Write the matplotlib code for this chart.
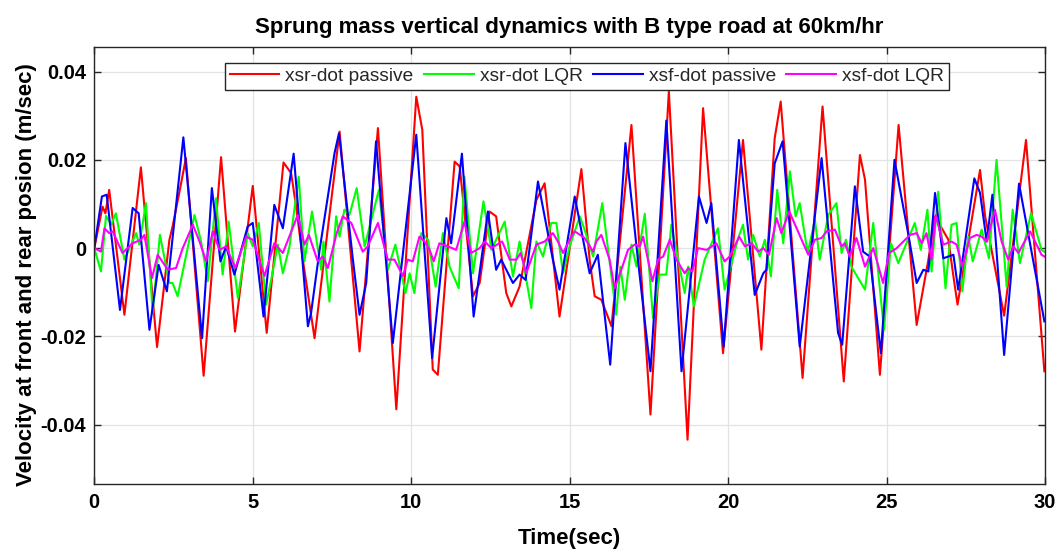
import numpy as np
import matplotlib
matplotlib.use("Agg")
import matplotlib.pyplot as plt

# values, velocity in 1e-3 m/sec
t_red = [0, 0.26, 0.35, 0.47, 0.95, 1.47, 1.98, 2.37, 2.47, 2.68,
         2.89, 3.45, 4.0, 4.44, 5.0, 5.44, 5.97, 6.21, 6.37, 6.58,
         6.95, 7.74, 8.37, 8.95, 9.53, 10.16, 10.35, 10.68, 10.84, 11.37,
         11.53, 11.95, 12.16, 12.47, 12.68, 13.0, 13.16, 13.42, 13.95, 14.21,
         14.68, 15.37, 15.63, 15.79, 16.0, 16.32, 16.95, 17.55, 18.13, 18.72,
         19.21, 19.84, 20.47, 21.05, 21.47, 21.66, 22.35, 22.98, 23.65, 24.16,
         24.32, 24.79, 25.38, 25.95, 26.32, 26.53, 26.95, 27.11, 27.24, 27.95,
         28.11, 28.71, 29.4, 29.98]
v_red = [0, 9.4, 7.9, 13.2, -15.1, 18.3, -22.4, 1.9, 4.9, 12.5,
         20.4, -28.9, 20.6, -18.9, 14.1, -19.2, 19.4, 17.0, 9.4, -2.6,
         -20.4, 26.4, -23.4, 27.2, -36.5, 34.3, 26.8, -27.5, -28.7, 19.6,
         18.5, -10.9, -7.9, 8.3, 7.2, -10.2, -13.2, -8.7, 10.9, 14.7,
         -15.5, 17.9, -2.6, -10.9, -11.7, -17.7, 27.9, -37.7, 35.5, -43.4,
         31.7, -23.8, 24.5, -23.0, 24.9, 33.2, -29.4, 32.1, -30.2, 21.1,
         15.5, -28.7, 27.9, -17.4, -2.6, 7.2, 1.9, -6.4, -12.8, 17.7,
         7.2, -15.3, 24.5, -27.9]

t_green = [0, 0.21, 0.37, 0.53, 0.68, 0.95, 1.32, 1.42, 1.63, 1.84,
           2.07, 2.37, 2.47, 2.63, 3.16, 3.37, 3.58, 3.84, 4.05, 4.24,
           4.53, 4.84, 5.0, 5.19, 5.42, 5.58, 5.79, 5.95, 6.16, 6.45,
           6.63, 6.87, 7.16, 7.23, 7.42, 7.63, 7.74, 7.89, 8.05, 8.28,
           8.53, 8.98, 9.26, 9.5, 9.82, 9.95, 10.1, 10.32, 10.53, 10.77,
           11.0, 11.21, 11.5, 11.68, 11.95, 12.28, 12.53, 12.95, 13.21, 13.42,
           13.79, 13.95, 14.16, 14.42, 14.58, 14.79, 15.0, 15.32, 15.47, 15.74,
           16.03, 16.47, 16.6, 16.74, 16.95, 17.11, 17.37, 17.63, 17.84, 18.05,
           18.21, 18.63, 18.74, 18.92, 19.26, 19.68, 19.89, 20.32, 20.47, 20.63,
           20.79, 21.0, 21.16, 21.35, 21.55, 21.74, 21.95, 22.13, 22.26, 22.51,
           22.74, 22.89, 23.16, 23.42, 23.58, 23.72, 23.89, 24.32, 24.58, 24.92,
           25.14, 25.37, 25.89, 26.08, 26.29, 26.42, 26.63, 26.86, 27.05, 27.21,
           27.39, 27.58, 27.72, 28.0, 28.23, 28.47, 28.79, 28.98, 29.21, 29.56,
           29.89, 29.98]
v_green = [0, -5.3, 7.3, 5.3, 7.9, -2.6, 3.4, 0.8, 10.2, -14.7,
           3.0, -7.9, -7.9, -10.9, 7.5, 1.5, -7.5, 11.3, -6.0, 6.0,
           -11.3, 3.4, 0.4, 5.7, -12.8, -7.2, 0.8, -5.7, 0.4, 16.2,
           -3.0, 8.3, -4.9, 1.5, -12.1, 7.2, 2.6, 8.7, 7.5, 13.6,
           0.4, 13.2, -4.9, 0.8, -10.2, -5.7, -10.2, 3.4, 1.9, -8.7,
           3.4, -4.2, -9.1, 16.2, -5.7, 10.6, -0.4, 6.0, -6.4, 1.5,
           -13.6, 1.5, -1.9, 5.7, 5.7, -5.7, 0.4, 7.2, 4.2, -1.9,
           10.2, -15.1, -4.2, -11.7, 0.8, -4.2, 7.8, -15.8, -6.0, -6.0,
           5.3, -10.2, -4.2, -13.2, -2.6, 4.5, -9.4, 2.3, 5.3, -2.6,
           3.0, -1.9, 1.9, -6.4, 13.2, 1.1, 17.4, 7.2, 10.2, -1.1,
           6.4, -2.6, 7.5, 10.2, -1.1, 1.9, -4.2, -9.4, 5.7, -18.5,
           1.1, -3.4, 5.7, -0.4, 8.7, -5.3, 12.8, -9.1, 5.3, 5.7,
           -9.8, 2.6, -3.0, 4.2, -2.3, 20.0, -8.7, 8.7, -3.4, 7.9,
           -0.4, -0.8]

t_blue = [0, 0.24, 0.39, 0.81, 1.21, 1.4, 1.74, 2.03, 2.29, 2.81,
          3.4, 3.71, 3.98, 4.16, 4.42, 4.84, 5.0, 5.34, 5.68, 5.95,
          6.29, 6.74, 6.84, 7.11, 7.58, 7.72, 8.16, 8.37, 8.58, 8.89,
          9.42, 10.16, 10.66, 11.11, 11.26, 11.6, 11.97, 12.42, 12.68, 12.84,
          13.21, 13.42, 13.61, 14.0, 14.47, 14.68, 15.16, 15.63, 15.89, 16.28,
          16.76, 17.16, 17.55, 18.05, 18.53, 19.08, 19.32, 19.47, 19.86, 20.34,
          20.84, 21.11, 21.21, 21.47, 21.72, 22.26, 22.95, 23.47, 23.6, 24.0,
          24.26, 24.47, 24.82, 25.25, 25.68, 25.95, 26.16, 26.32, 26.53, 26.79,
          27.11, 27.26, 27.77, 27.95, 28.16, 28.34, 28.71, 29.18, 29.98]
v_blue = [0, 11.7, 12.1, -14.0, 9.1, 7.9, -18.5, -3.8, -9.8, 25.1,
          -20.4, 13.6, -3.0, 0.4, -6.0, 4.9, 5.7, -15.5, 9.8, 4.5,
          21.4, -17.7, -14.7, -0.4, 21.5, 26.0, -2.6, -15.1, -7.9, 24.2,
          -21.5, 25.7, -24.9, 6.8, 1.1, 21.4, -15.5, 8.3, -4.9, -2.6,
          -7.9, -6.0, -7.2, 15.1, -2.6, -9.4, 11.7, -5.7, -1.5, -26.4,
          23.8, -3.0, -27.9, 28.9, -27.9, 11.7, 5.7, 10.2, -22.3, 24.5,
          -10.6, -5.7, -4.9, 19.2, 24.2, -22.3, 20.4, -19.2, -21.9, 14.0,
          -0.8, -1.9, -23.8, 20.0, 3.4, -7.9, -4.9, -5.3, 12.5, -2.3,
          -1.5, -9.4, 15.8, 12.5, 1.5, 12.1, -24.2, 14.6, -16.6]

t_mag = [0, 0.21, 0.32, 0.47, 0.58, 0.89, 1.21, 1.47, 1.58, 1.82,
         2.0, 2.32, 2.58, 2.79, 3.11, 3.32, 3.53, 3.74, 3.95, 4.16,
         4.45, 4.79, 5.0, 5.37, 5.68, 5.95, 6.42, 6.63, 6.77, 7.05,
         7.21, 7.37, 7.65, 7.84, 8.11, 8.47, 8.63, 8.95, 9.26, 9.47,
         9.74, 9.89, 10.05, 10.26, 10.42, 10.58, 10.71, 10.89, 11.16, 11.42,
         11.68, 11.89, 12.16, 12.32, 12.53, 12.87, 13.11, 13.32, 13.45, 13.63,
         13.95, 14.21, 14.47, 14.63, 14.79, 15.05, 15.16, 15.47, 15.74, 15.84,
         16.0, 16.26, 16.42, 16.63, 16.84, 17.05, 17.21, 17.32, 17.61, 17.79,
         17.95, 18.16, 18.37, 18.63, 18.74, 18.87, 19.05, 19.32, 19.63, 19.89,
         20.05, 20.35, 20.53, 20.74, 20.95, 21.11, 21.29, 21.53, 21.68, 21.93,
         22.16, 22.32, 22.53, 22.74, 22.95, 23.11, 23.37, 23.58, 23.68, 23.84,
         24.05, 24.32, 24.58, 24.89, 25.08, 25.32, 25.74, 25.95, 26.11, 26.26,
         26.42, 26.55, 26.79, 27.05, 27.21, 27.39, 27.63, 27.84, 28.0, 28.16,
         28.42, 28.63, 28.84, 29.0, 29.16, 29.53, 29.89, 29.98]
v_mag = [0, -0.8, 4.5, 3.4, 3.8, -1.1, 1.1, 1.9, 3.0, -6.8,
         -1.5, -4.9, -4.5, 0.0, 5.3, 1.5, -3.0, 3.8, -0.4, 0.4,
         -4.5, 2.6, 1.9, -6.3, 1.1, -1.1, 7.5, 0.8, 3.0, -3.0,
         -1.9, -4.5, 3.4, 7.2, 5.7, -0.8, 0.4, 5.7, -2.6, -2.6,
         -6.3, -2.6, -3.0, 2.6, 1.5, -0.4, -3.0, 1.1, 0.4, -0.4,
         6.0, -1.1, 0.0, 1.5, 0.0, 1.5, -2.6, -2.6, -1.1, -5.7,
         0.8, 1.5, 3.4, 1.5, -1.1, 2.6, 3.8, 2.3, -0.8, 1.5,
         3.0, -2.6, -9.1, -4.9, -0.4, 0.8, 0.4, 2.6, -7.5, -2.6,
         -1.9, 1.9, -2.6, -5.7, -4.5, -5.3, 0.0, -0.4, 1.1, -3.0,
         -1.9, 2.6, 0.4, 1.1, -0.8, 0.0, -1.5, 6.8, 3.4, 8.3,
         4.5, 1.9, -1.5, 1.9, 2.3, 3.8, 4.2, 0.4, 1.1, -1.9,
         2.3, -4.2, 0.0, -7.9, -1.1, 0.0, 3.0, 3.4, 1.1, 3.4,
         -2.6, 7.5, 0.8, 1.5, 0.8, -4.2, 2.3, 3.0, 2.6, 1.5,
         8.7, 1.5, -2.6, 0.4, -1.1, 3.8, -1.5, -1.9]

labels = ["xsr-dot passive", "xsr-dot LQR", "xsf-dot passive", "xsf-dot LQR"]
x_ticks = [0, 5, 10, 15, 20, 25, 30]
y_ticks = [-0.04, -0.02, 0, 0.02, 0.04]

plt.rcParams['font.family'] = ['Liberation Sans', 'DejaVu Sans']

fig = plt.figure(figsize=(10.62, 5.55), dpi=100)
ax = fig.add_axes([0.0888, 0.1274, 0.8952, 0.7874])

series = [(t_red, v_red, "#ff0000"), (t_green, v_green, "#00ff00"),
          (t_blue, v_blue, "#0000ff"), (t_mag, v_mag, "#ff00ff")]
for (t, v, c), lab in zip(series, labels):
    ax.plot(t, np.array(v) * 1e-3, color=c, lw=1.5, label=lab,
            solid_joinstyle="round")

ax.set_xlim(0, 30)
ax.set_ylim(-0.0535, 0.0455)
ax.set_xticks(x_ticks)
ax.set_xticklabels([str(x) for x in x_ticks])
ax.set_yticks(y_ticks)
ax.set_yticklabels(["-0.04", "-0.02", "0", "0.02", "0.04"])
ax.grid(True, color="#e3e3e3", lw=0.9)
ax.set_axisbelow(True)
ax.tick_params(direction="in", length=5, width=1, top=True, right=True,
               labelsize=14.5, colors="#262626", pad=6)
for lbl in ax.get_xticklabels() + ax.get_yticklabels():
    lbl.set_fontweight("bold")
    lbl.set_color("black")
for s in ax.spines.values():
    s.set_color("#262626")
    s.set_linewidth(1.0)

ax.set_title("Sprung mass vertical dynamics with B type road at 60km/hr",
             fontsize=16, fontweight="bold", pad=10)
ax.set_xlabel("Time(sec)", fontsize=16, fontweight="bold", labelpad=12)
ax.set_ylabel("Velocity at front and rear posion (m/sec)", fontsize=16,
              fontweight="bold")
ax.yaxis.set_label_coords(-0.0603, 0.481)

leg = ax.legend(loc="upper center", bbox_to_anchor=(0.518, 0.965), ncol=4,
                fontsize=13.8, frameon=True, fancybox=False, framealpha=1,
                edgecolor="#262626", handlelength=2.6, handletextpad=0.3,
                columnspacing=0.55, borderpad=0.25, borderaxespad=0)
leg.get_frame().set_linewidth(1.0)
for txt in leg.get_texts():
    txt.set_color("#262626")

fig.savefig("out.png", dpi=100)
